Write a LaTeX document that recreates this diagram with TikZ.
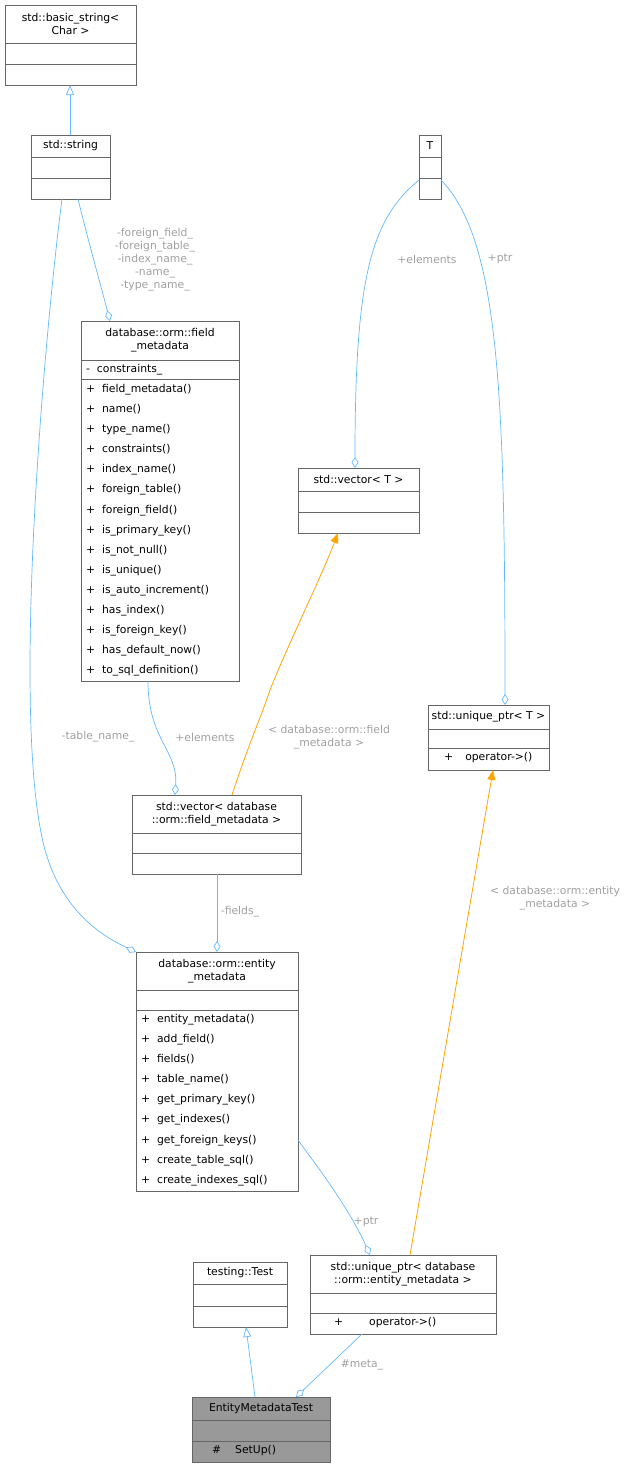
\documentclass[tikz,border=0pt]{standalone}
\usepackage{fontspec}
\setmainfont{DejaVu Sans}
\usetikzlibrary{arrows.meta}
\definecolor{edge}{HTML}{63B8FF}
\definecolor{tmpl}{HTML}{FFA500}
\definecolor{lbl}{HTML}{A0A0A0}
\definecolor{bd}{HTML}{666666}
\tikzset{
  x=1pt,y=-1pt,
  every node/.style={font=\fontsize{10.8}{13}\selectfont},
  box/.style={draw=bd,fill=white,anchor=north west,inner sep=0,line width=0.7pt},
  ttl/.style={align=center,inner sep=0},
  mem/.style={align=left,inner sep=0,anchor=north west,font=\fontsize{10.8}{20.1}\selectfont},
  sep/.style={draw=bd,line width=0.7pt},
  agg/.style={draw=edge,line width=0.7pt,-{Diamond[open,length=11pt,width=7pt,fill=white]}},
  inh/.style={draw=edge,line width=0.7pt,-{Triangle[open,length=10pt,width=8pt,fill=white]}},
  tpl/.style={draw=tmpl,line width=0.8pt,-{Triangle[length=10pt,width=8pt]}},
  lab/.style={text=lbl,align=center,inner sep=0,font=\fontsize{10.8}{13}\selectfont},
}
\newcommand\cls[9]{% name x1 y1 x2 y2 sep1 sep2 title members
  \node[box,#9,minimum width=#4-#2,minimum height=#5-#3] (#1) at (#2,#3) {};
  \draw[sep] (#2,#6) -- (#4,#6);
  \draw[sep] (#2,#7) -- (#4,#7);
  \node[ttl] (#1t) at ({(#2+#4)/2},{(#3+#6)/2}) {#8};
}
\begin{document}
\begin{tikzpicture}
\useasboundingbox (0,0) rectangle (639,1468);
\cls{bs}{5}{5}{136}{85}{43}{64}{std::basic\_string\textless\\Char \textgreater}{}
\cls{str}{31}{135}{110}{199}{157}{178}{std::string}{}
\cls{T}{419}{135}{441}{199}{157}{178}{T}{}
\cls{fm}{81}{321}{239}{681}{360}{379}{database::orm::field\\\_metadata}{}
\node[mem] (fmm) at (86,364) {-\ \ constraints\_};
\node[mem] (fmf) at (86,384) {+\ \ field\_metadata()\\+\ \ name()\\+\ \ type\_name()\\+\ \ constraints()\\+\ \ index\_name()\\+\ \ foreign\_table()\\+\ \ foreign\_field()\\+\ \ is\_primary\_key()\\+\ \ is\_not\_null()\\+\ \ is\_unique()\\+\ \ is\_auto\_increment()\\+\ \ has\_index()\\+\ \ is\_foreign\_key()\\+\ \ has\_default\_now()\\+\ \ to\_sql\_definition()};
\cls{vT}{298}{468}{419}{533}{491}{512}{std::vector\textless\ T \textgreater}{}
\cls{upT}{428}{705}{549}{770}{729}{748}{std::unique\_ptr\textless\ T \textgreater}{}
\node[mem] (upTm) at (444,752) {+\hspace{12pt}operator-\textgreater()};
\cls{vfm}{132}{795}{301}{874}{833}{853}{std::vector\textless\ database\\::orm::field\_metadata \textgreater}{}
\cls{em}{136}{952}{298}{1191}{990}{1010}{database::orm::entity\\\_metadata}{}
\node[mem] (emf) at (141,1014) {+\ \ entity\_metadata()\\+\ \ add\_field()\\+\ \ fields()\\+\ \ table\_name()\\+\ \ get\_primary\_key()\\+\ \ get\_indexes()\\+\ \ get\_foreign\_keys()\\+\ \ create\_table\_sql()\\+\ \ create\_indexes\_sql()};
\cls{tt}{193}{1262}{287}{1327}{1284}{1306}{testing::Test}{}
\cls{upE}{310}{1255}{496}{1334}{1293}{1313}{std::unique\_ptr\textless\ database\\::orm::entity\_metadata \textgreater}{}
\node[mem] (upEm) at (334,1317) {+\hspace{26pt}operator-\textgreater()};
\cls{emt}{192}{1397}{330}{1462}{1420}{1441}{EntityMetadataTest}{fill=black!40}
\node[mem] (emtm) at (212,1445) {\#\hspace{14pt}SetUp()};

\coordinate (c1) at (70,135);
\draw[inh] (c1) -- (70,85);
\draw[agg] (78,199) .. controls (88,240) and (102,290) .. (110,321);
\node[lab] (l1) at (155,260) {-foreign\_field\_\\-foreign\_table\_\\-index\_name\_\\-name\_\\-type\_name\_};
\draw[agg] (62,199) .. controls (45,330) and (10,720) .. (45,850) .. controls (62,910) and (100,935) .. (136,952);
\node[lab] (l2) at (98,737) {-table\_name\_};
\draw[agg] (419,180) .. controls (370,220) and (355,280) .. (355,468);
\node[lab] (l3) at (427,259) {+elements};
\draw[agg] (441,180) .. controls (500,240) and (505,400) .. (505,705);
\node[lab] (l4) at (500,259) {+ptr};
\draw[agg] (148,681) .. controls (148,740) and (178,750) .. (175,795);
\node[lab] (l5) at (205,737) {+elements};
\draw[tpl] (232,795) .. controls (250,740) and (260,720) .. (270,690) .. controls (290,640) and (320,580) .. (338,533);
\node[lab] (l6) at (329,737) {\textless\ database::orm::field\\\_metadata \textgreater};
\draw[agg] (217,874) -- (217,952);
\node[lab] (l7) at (240,912) {-fields\_};
\draw[agg] (298,1140) .. controls (320,1170) and (350,1210) .. (370,1255);
\node[lab] (l8) at (366,1222) {+ptr};
\draw[tpl] (410,1255) -- (493,770);
\node[lab] (l9) at (555,898) {\textless\ database::orm::entity\\\_metadata \textgreater};
\draw[inh] (255,1397) -- (246,1327);
\draw[agg] (362,1334) -- (296,1397);
\node[lab] (l10) at (362,1365) {\#meta\_};
\end{tikzpicture}
\end{document}
